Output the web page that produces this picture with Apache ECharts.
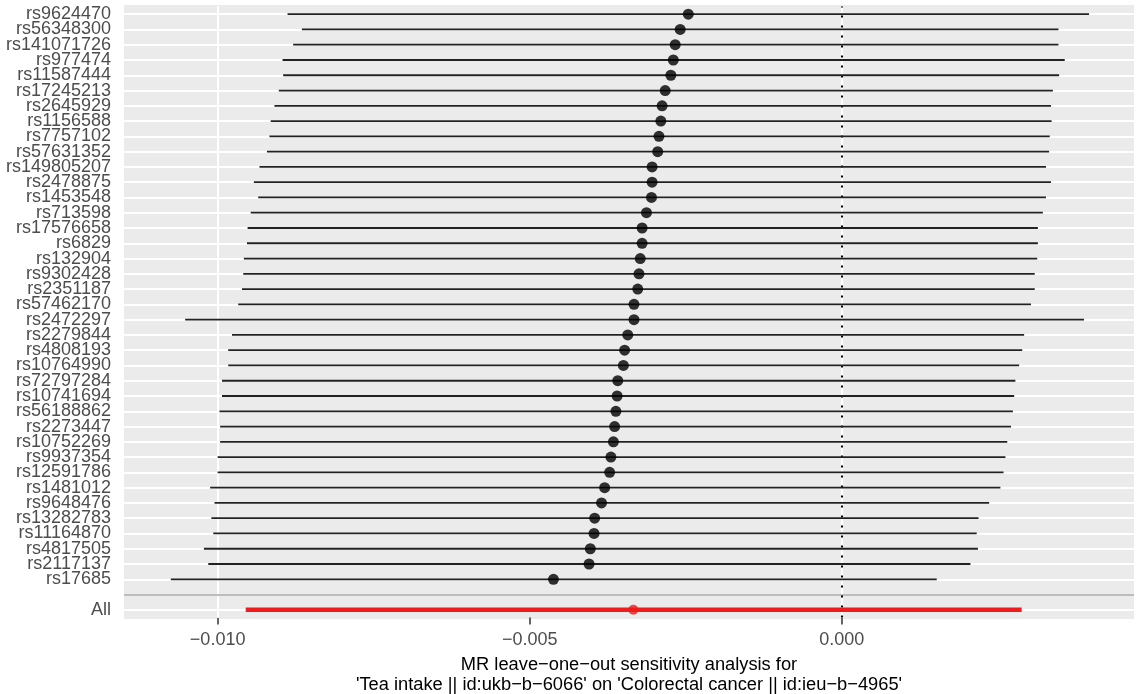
<!DOCTYPE html>
<html>
<head>
<meta charset="utf-8">
<script src="https://cdn.jsdelivr.net/npm/echarts@6/dist/echarts.min.js"></script>
<style>html,body{margin:0;padding:0;background:#fff}#c{width:1139px;height:694px}</style>
</head>
<body>
<div id="c"></div>
<script>
// SNPs, top to bottom
const snps = ['rs9624470','rs56348300','rs141071726','rs977474','rs11587444','rs17245213','rs2645929','rs1156588','rs7757102','rs57631352','rs149805207','rs2478875','rs1453548','rs713598','rs17576658','rs6829','rs132904','rs9302428','rs2351187','rs57462170','rs2472297','rs2279844','rs4808193','rs10764990','rs72797284','rs10741694','rs56188862','rs2273447','rs10752269','rs9937354','rs12591786','rs1481012','rs9648476','rs13282783','rs11164870','rs4817505','rs2117137','rs17685'];
const lower = [-0.00888,-0.00865,-0.00879,-0.00896,-0.00895,-0.00902,-0.00909,-0.00915,-0.00917,-0.00921,-0.00933,-0.00942,-0.00935,-0.00947,-0.00952,-0.00953,-0.00958,-0.00959,-0.00961,-0.00967,-0.01052,-0.00977,-0.00983,-0.00983,-0.00993,-0.00993,-0.00997,-0.00996,-0.00996,-0.01000,-0.01000,-0.01012,-0.01005,-0.01010,-0.01007,-0.01022,-0.01015,-0.01075];
const estimate = [-0.00246,-0.00259,-0.00267,-0.00270,-0.00274,-0.00283,-0.00288,-0.00290,-0.00293,-0.00295,-0.00304,-0.00304,-0.00305,-0.00313,-0.00320,-0.00320,-0.00323,-0.00325,-0.00327,-0.00333,-0.00333,-0.00343,-0.00348,-0.00350,-0.00359,-0.00360,-0.00362,-0.00364,-0.00366,-0.00370,-0.00372,-0.00380,-0.00385,-0.00396,-0.00397,-0.00403,-0.00405,-0.00462];
const upper = [0.00396,0.00347,0.00347,0.00357,0.00348,0.00338,0.00335,0.00336,0.00333,0.00332,0.00327,0.00335,0.00327,0.00322,0.00314,0.00314,0.00313,0.00309,0.00309,0.00303,0.00388,0.00292,0.00289,0.00284,0.00278,0.00276,0.00274,0.00271,0.00265,0.00262,0.00259,0.00254,0.00236,0.00219,0.00216,0.00218,0.00206,0.00152];
const allRow = {name: 'All', lower: -0.00955, estimate: -0.00334, upper: 0.00288};
const xTicks = [-0.010, -0.005, 0.000];
const xMinor = [-0.0075, -0.0025, 0.0025];
const xTitle = 'MR leave\u2212one\u2212out sensitivity analysis for\n\'Tea intake || id:ukb\u2212b\u22126066\' on \'Colorectal cancer || id:ieu\u2212b\u22124965\'';

// categories from bottom (index 0) to top
const categories = [allRow.name, ''].concat(snps.slice().reverse());
const idxOf = name => categories.indexOf(name);
const yIdx = categories.map((_, i) => i);

const snpBars = snps.map((s, i) => [lower[i], upper[i], idxOf(s)]);
const snpPts = snps.map((s, i) => [estimate[i], idxOf(s)]);
const allBar = [[allRow.lower, allRow.upper, idxOf(allRow.name)]];
const allPt = [[allRow.estimate, idxOf(allRow.name)]];

const barRender = (color, width) => function (params, api) {
  const p1 = api.coord([api.value(0), api.value(2)]);
  const p2 = api.coord([api.value(1), api.value(2)]);
  return {type: 'line', shape: {x1: p1[0], y1: p1[1], x2: p2[0], y2: p2[1]},
          style: {stroke: color, lineWidth: width}};
};

const fmt = v => (Math.abs(v) < 1e-12 ? '0.000' : (v < 0 ? '\u2212' : '') + Math.abs(v).toFixed(3));
const font = 'Liberation Sans, Arial, sans-serif';

const option = {
  animation: false,
  graphic: {elements: [{type: 'rect', z: -10, silent: true,
    shape: {x: 124, y: 5, width: 1010, height: 614}, style: {fill: '#ebebeb'}}]},
  grid: {left: 124, right: 5, top: 6.53, bottom: 76.53, show: false,
         containLabel: false, outerBoundsMode: 'none'},
  xAxis: {
    type: 'value', min: -0.0115, max: 0.00468,
    axisLine: {show: false},
    splitLine: {show: false},
    axisTick: {show: true, customValues: xTicks, length: 7, lineStyle: {color: '#333', width: 1.5}},
    axisLabel: {customValues: xTicks, formatter: fmt, color: '#4d4d4d', fontSize: 18, fontFamily: font, margin: 13.5},
    name: xTitle, nameLocation: 'middle', nameGap: 37,
    nameTextStyle: {color: '#000', fontSize: 18.3, fontFamily: font, lineHeight: 20}
  },
  yAxis: {
    type: 'category', data: categories, boundaryGap: true,
    axisLine: {show: false},
    splitLine: {show: false},
    axisTick: {show: true, alignWithLabel: true, interval: 0, length: 5, lineStyle: {color: '#333', width: 1.5}},
    axisLabel: {interval: 0, color: '#4d4d4d', fontSize: 18, fontFamily: font, margin: 13, lineHeight: 12}
  },
  series: [
    {
      type: 'line', data: [], z: 1, silent: true,
      markLine: {
        z: 1, silent: true, symbol: 'none', animation: false, label: {show: false},
        data: xMinor.map(v => ({xAxis: v, lineStyle: {color: '#fafafa', width: 1, type: 'solid'}}))
          .concat(xTicks.map(v => ({xAxis: v, lineStyle: {color: '#ffffff', width: 2, type: 'solid'}})))
          .concat(yIdx.map(v => ({yAxis: v, lineStyle: {color: '#ffffff', width: 2, type: 'solid'}})))
      }
    },
    {
      type: 'line', data: [], z: 2, silent: true,
      markLine: {
        z: 2, silent: true, symbol: 'none', animation: false, label: {show: false},
        data: [
          {yAxis: idxOf(''), lineStyle: {color: '#bdbdbd', width: 2, type: 'solid'}},
          {xAxis: 0, lineStyle: {color: '#000', width: 2, type: [2, 8]}}
        ]
      }
    },
    {type: 'custom', z: 3, renderItem: barRender('#222', 1.8), data: snpBars, silent: true},
    {type: 'custom', z: 3, renderItem: barRender('#ee1c1c', 4.5), data: allBar, silent: true},
    {type: 'scatter', z: 4, symbolSize: 11, itemStyle: {color: '#000'}, data: snpPts, silent: true},
    {type: 'scatter', z: 4, symbolSize: 10, itemStyle: {color: '#ee1c1c'}, data: allPt, silent: true}
  ]
};
echarts.init(document.getElementById('c')).setOption(option);
</script>
</body>
</html>
